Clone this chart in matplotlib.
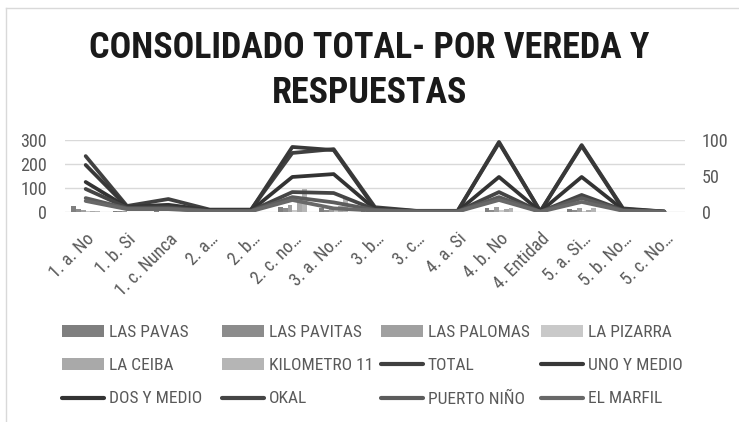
import os
import matplotlib
matplotlib.use("Agg")
import matplotlib.pyplot as plt
import matplotlib.font_manager as fm
from matplotlib.lines import Line2D
import numpy as np

# categories (x axis)
categorias = ["1. a. No", "1. b. Si", "1. c. Nunca", "2. a…", "2. b…", "2. c. no…",
              "3. a. No…", "3. b…", "3. c…", "4. a. Si", "4. b. No", "4. Entidad",
              "5. a. Si…", "5. b. No…", "5. c. No…"]

# bar series (veredas)
las_pavas    = [26, 4, 3, 1, 1, 20, 15, 3, 1, 1, 15, 0, 12, 2, 0]
las_pavitas  = [12, 3, 2, 1, 1, 15, 10, 2, 1, 1, 10, 0, 10, 2, 0]
las_palomas  = [10, 3, 2, 1, 1, 30, 20, 2, 1, 1, 20, 0, 18, 2, 0]
la_pizarra   = [5, 2, 1, 1, 1, 10, 8, 1, 1, 1, 8, 0, 6, 1, 0]
la_ceiba     = [6, 2, 2, 1, 1, 40, 25, 2, 1, 1, 12, 0, 10, 1, 0]
kilometro_11 = [5, 2, 2, 1, 1, 95, 58, 2, 1, 1, 18, 0, 15, 1, 0]

# line series
total        = [233, 25, 54, 10, 10, 246, 262, 20, 5, 5, 292, 3, 279, 15, 2]
uno_y_medio  = [196, 22, 30, 8, 8, 271, 258, 15, 4, 4, 288, 2, 275, 12, 2]
dos_y_medio  = [125, 20, 25, 6, 6, 146, 158, 12, 3, 3, 146, 2, 146, 10, 1]
okal         = [96, 18, 20, 5, 5, 83, 79, 10, 3, 3, 83, 1, 71, 8, 1]
puerto_nino  = [58, 15, 15, 4, 4, 62, 40, 8, 2, 2, 62, 1, 58, 6, 1]
el_marfil    = [46, 12, 12, 3, 3, 50, 15, 6, 2, 2, 50, 1, 42, 5, 1]

barras = [("LAS PAVAS", las_pavas, "#7f7f7f"),
          ("LAS PAVITAS", las_pavitas, "#8c8c8c"),
          ("LAS PALOMAS", las_palomas, "#a0a0a0"),
          ("LA PIZARRA", la_pizarra, "#c9c9c9"),
          ("LA CEIBA", la_ceiba, "#a9a9a9"),
          ("KILOMETRO 11", kilometro_11, "#b5b5b5")]
lineas = [("TOTAL", total, "#404040"),
          ("UNO Y MEDIO", uno_y_medio, "#383838"),
          ("DOS Y MEDIO", dos_y_medio, "#333333"),
          ("OKAL", okal, "#454545"),
          ("PUERTO NIÑO", puerto_nino, "#5c5c5c"),
          ("EL MARFIL", el_marfil, "#686868")]
orden_leyenda = [b[0] for b in barras] + [l[0] for l in lineas]


def buscar_fuente(bold):
    # look for a narrow / condensed sans face (closer to Calibri)
    prefs = ["liberationsansnarrow", "notosanscondensed", "opensanscondensed",
             "robotocondensed", "dejavusanscondensed"]
    files = {}
    for f in fm.fontManager.ttflist:
        b = os.path.splitext(os.path.basename(f.fname))[0].lower()
        b = b.replace("-", "").replace("_", "").replace(" ", "")
        files[b] = f.fname
    for p in prefs:
        targets = [p + "bold"] if bold else [p, p + "regular"]
        for t in targets:
            if t in files:
                return files[t]
    return None


f_reg = buscar_fuente(False)
f_bold = buscar_fuente(True)


def fp(size, bold=False):
    fn = f_bold if bold else f_reg
    if fn:
        return fm.FontProperties(fname=fn, size=size)
    return fm.FontProperties(family="Liberation Sans", size=size,
                             weight="bold" if bold else "normal")


gris = "#595959"
W, H = 739, 422
fig = plt.figure(figsize=(W / 100, H / 100), dpi=100)

# chart frame (left and top edges visible)
fig.add_artist(Line2D([6 / W, 6 / W], [0, 1 - 8 / H], color="#d9d9d9", lw=1))
fig.add_artist(Line2D([6 / W, 1], [1 - 8 / H, 1 - 8 / H], color="#d9d9d9", lw=1))

ax = fig.add_axes([65 / W, (H - 212) / H, 620 / W, 72 / H])
x = np.arange(len(categorias))

bw = 0.115
for i, (nombre, vals, col) in enumerate(barras):
    ax.bar(x + (i - 2.5) * bw, vals, width=bw, color=col, label=nombre, zorder=2)

for nombre, vals, col in lineas:
    ax.plot(x, vals, color=col, lw=2.7, label=nombre, zorder=3,
            solid_joinstyle="round", solid_capstyle="round")

ax.set_xlim(-0.5, len(categorias) - 0.5)
ax.set_ylim(0, 300)
ax.set_yticks([0, 100, 200, 300])
ax.yaxis.grid(True, color="#d9d9d9", lw=1, zorder=0)
ax.set_axisbelow(True)
for s in ax.spines.values():
    s.set_visible(False)
ax.tick_params(axis="y", length=0, pad=13, labelcolor=gris)
for t in ax.get_yticklabels():
    t.set_fontproperties(fp(13))
ax.set_xticks(x)
ax.set_xticklabels(categorias, rotation=45, ha="right", va="top",
                   rotation_mode="anchor", color=gris)
for t in ax.get_xticklabels():
    t.set_fontproperties(fp(13))
ax.tick_params(axis="x", length=0, pad=13)

ax2 = ax.twinx()
ax2.set_ylim(0, 100)
ax2.set_yticks([0, 50, 100])
for s in ax2.spines.values():
    s.set_visible(False)
ax2.tick_params(axis="y", length=0, pad=12, labelcolor=gris)
for t in ax2.get_yticklabels():
    t.set_fontproperties(fp(13))

t1 = fig.text(0.5, 1 - 48 / H, "CONSOLIDADO TOTAL- POR VEREDA Y", ha="center", va="center",
              fontproperties=fp(26, True), color="#1a1a1a")
t2 = fig.text(0.5, 1 - 93 / H, "RESPUESTAS", ha="center", va="center",
              fontproperties=fp(26, True), color="#1a1a1a")
# fit the title to the width it has in the original (about 562 px)
r = fig.canvas.get_renderer()
ancho = t1.get_window_extent(renderer=r).width
nuevo = min(30, 26 * 562 / ancho)
t1.set_fontsize(nuevo)
t2.set_fontsize(nuevo)

# legend: 4 columns, filled row by row like the original
hs, ls = ax.get_legend_handles_labels()
hmap = dict(zip(ls, hs))
col_x = [62, 222, 381, 541]
for c in range(4):
    labs = [orden_leyenda[r_ * 4 + c] for r_ in range(3)]
    leg = fig.legend([hmap[l] for l in labs], labs,
                     loc="upper left", bbox_to_anchor=(col_x[c] / W, 1 - 325 / H),
                     frameon=False, prop=fp(12.5), handlelength=2.4, handleheight=0.65,
                     handletextpad=0.3, labelspacing=1.05, borderpad=0, borderaxespad=0)
    for t in leg.get_texts():
        t.set_color(gris)
    for lh in leg.legend_handles:
        if isinstance(lh, Line2D):
            lh.set_linewidth(3)

fig.savefig("out.png", dpi=100)
